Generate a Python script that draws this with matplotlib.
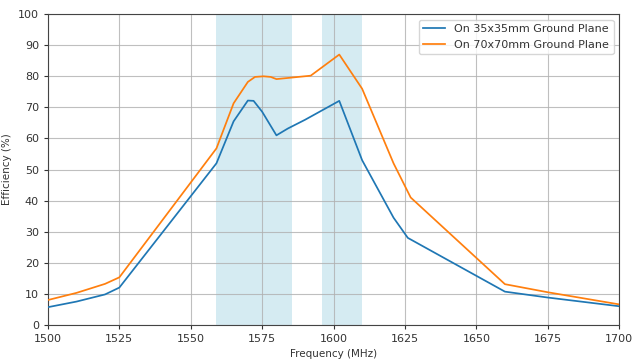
import matplotlib
matplotlib.use("Agg")
import matplotlib.pyplot as plt

# 频率 (MHz) 与效率 (%)
freq_35 = [1500, 1510, 1520, 1525, 1559, 1565, 1570, 1572, 1575, 1580, 1584, 1590, 1602, 1610, 1621, 1626, 1660, 1675, 1700]
eff_35 = [5.7, 7.5, 9.8, 12.0, 52.0, 65.5, 72.2, 72.1, 68.6, 61.0, 63.2, 66.0, 72.1, 53.0, 34.5, 28.0, 10.7, 8.8, 6.0]

freq_70 = [1500, 1510, 1520, 1525, 1559, 1565, 1570, 1572.5, 1575.5, 1578, 1580, 1592, 1602, 1610, 1621, 1627, 1660, 1675, 1700]
eff_70 = [8.0, 10.3, 13.2, 15.3, 56.8, 71.3, 78.2, 79.8, 80.0, 79.8, 79.1, 80.2, 87.0, 76.0, 52.0, 41.0, 13.1, 10.5, 6.6]

bands = [(1559, 1585.5), (1596, 1610)]
labels = ["On 35x35mm Ground Plane", "On 70x70mm Ground Plane"]

plt.rcParams["text.color"] = "#333333"
plt.rcParams["axes.labelcolor"] = "#333333"
plt.rcParams["xtick.color"] = "#333333"
plt.rcParams["ytick.color"] = "#333333"
plt.rcParams["axes.edgecolor"] = "#444444"

fig = plt.figure(figsize=(6.39, 3.63), dpi=100)
ax = fig.add_axes([0.075, 0.105, 0.894, 0.856])

for lo, hi in bands:
    ax.axvspan(lo, hi, color="#add8e6", alpha=0.5, lw=0, zorder=0)

ax.plot(freq_35, eff_35, color="#1f77b4", lw=1.25, label=labels[0], zorder=3)
ax.plot(freq_70, eff_70, color="#ff7f0e", lw=1.25, label=labels[1], zorder=3)

ax.set_xlim(1500, 1700)
ax.set_ylim(0, 100)
ax.set_xticks(range(1500, 1701, 25))
ax.set_yticks(range(0, 101, 10))
ax.tick_params(labelsize=8, length=3)
ax.grid(color="#b0b0b0", lw=0.8, alpha=0.8, zorder=1)
ax.set_axisbelow(True)
ax.set_xlabel("Frequency (MHz)", fontsize=7.5)
ax.set_ylabel("Efficiency (%)", fontsize=7.5)
ax.legend(loc="upper right", fontsize=8)

fig.savefig("out.png", dpi=100)
